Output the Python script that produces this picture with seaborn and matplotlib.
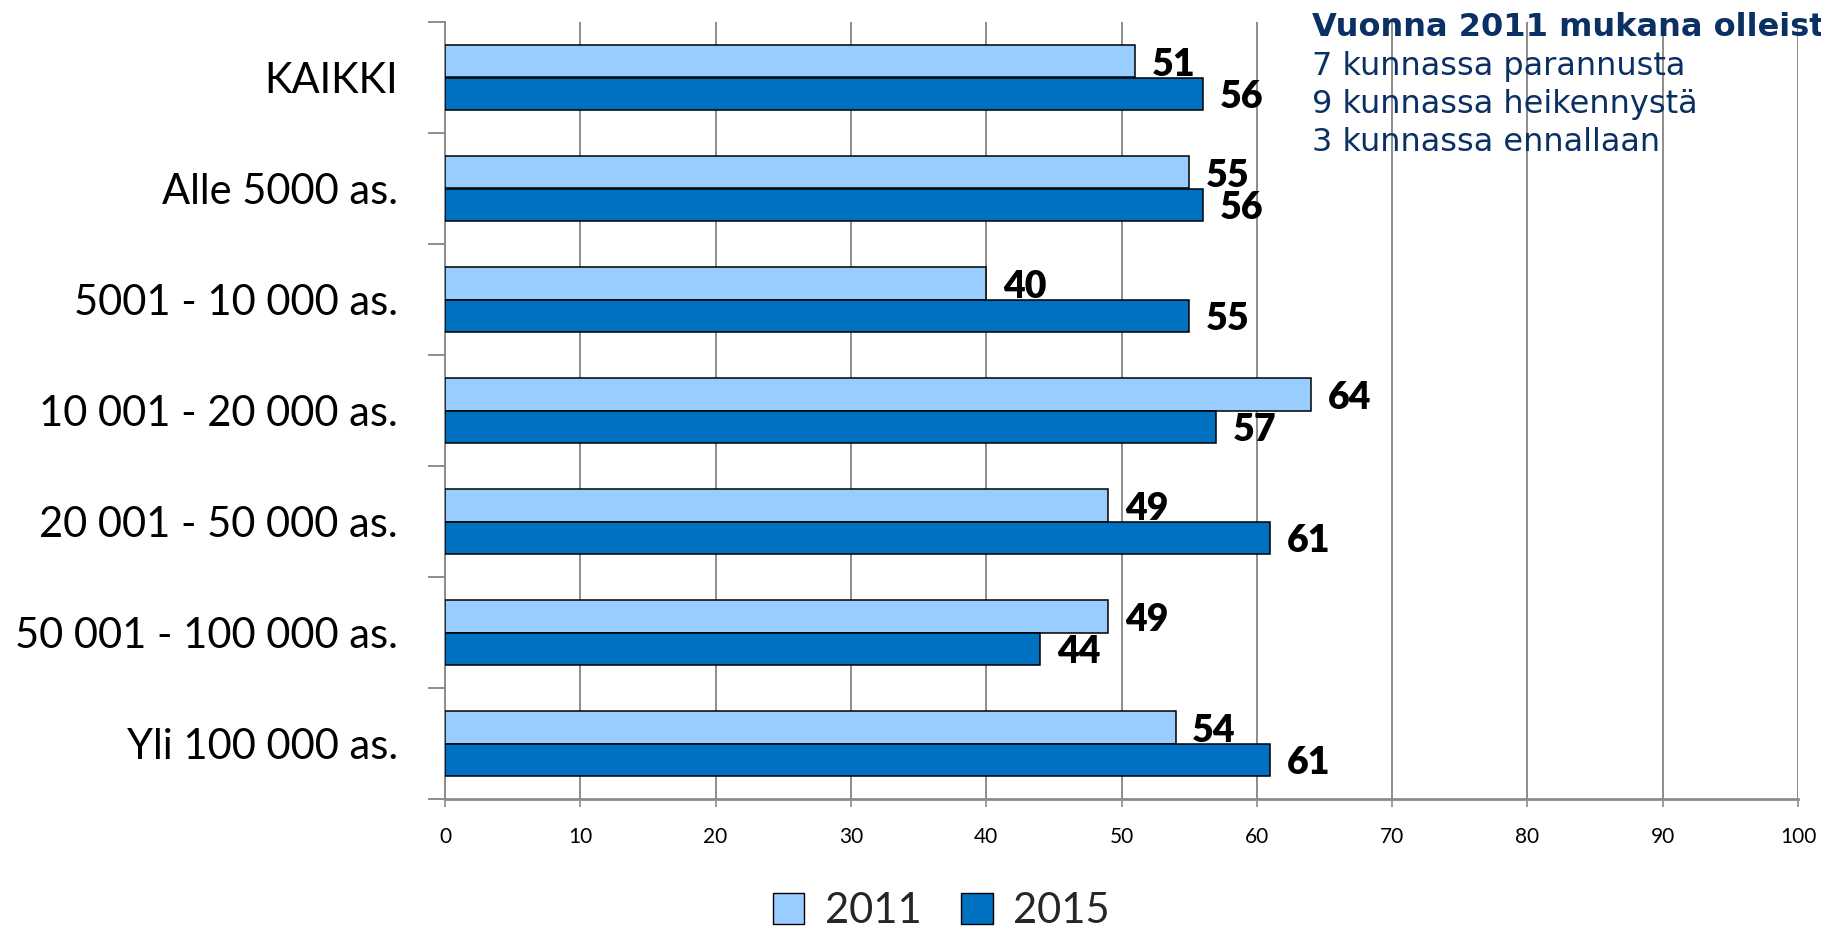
import matplotlib
matplotlib.use("Agg")
import matplotlib.pyplot as plt
import seaborn as sns
import pandas as pd
from matplotlib.patches import Patch

categories = ["KAIKKI", "Alle 5000 as.", "5001 - 10 000 as.", "10 001 - 20 000 as.",
              "20 001 - 50 000 as.", "50 001 - 100 000 as.", "Yli 100 000 as."]
values_2011 = [51, 55, 40, 64, 49, 49, 54]
values_2015 = [56, 56, 55, 57, 61, 44, 61]
years = ["2011", "2015"]
colors = ["#99CCFF", "#0070C0"]
x_ticks = [0, 10, 20, 30, 40, 50, 60, 70, 80, 90, 100]
note_title = "Vuonna 2011 mukana olleista"
note_lines = ["7 kunnassa parannusta", "9 kunnassa heikennystä", "3 kunnassa ennallaan"]

df = pd.DataFrame({
    "cat": categories * 2,
    "year": [years[0]] * len(categories) + [years[1]] * len(categories),
    "val": values_2011 + values_2015,
})

sns.set_theme(style="white")
plt.rcParams["font.family"] = ["Lato", "DejaVu Sans"]

fig = plt.figure(figsize=(18.21, 9.30), dpi=100)
ax = fig.add_axes([445 / 1821, 1 - 799 / 930, (1798 - 445) / 1821, (799 - 22) / 930])

sns.barplot(data=df, y="cat", x="val", hue="year", order=categories, hue_order=years,
            palette=colors, saturation=1, orient="h", width=0.58, edgecolor="black",
            linewidth=1.1, ax=ax, legend=False, zorder=3)

ax.set_xlim(0, 100)
ax.set_ylim(6.5, -0.5)
ax.set_xticks(x_ticks)
ax.set_xticklabels([str(t) for t in x_ticks], fontsize=15)
ax.set_xlabel("")
ax.set_ylabel("")
ax.xaxis.grid(True, color="#8c8c8c", linewidth=1.4, zorder=0)
ax.yaxis.grid(False)
ax.set_axisbelow(True)
for s in ["top", "right"]:
    ax.spines[s].set_visible(False)
ax.spines["left"].set_color("#8c8c8c")
ax.spines["left"].set_linewidth(1.4)
ax.spines["bottom"].set_color("#8c8c8c")
ax.spines["bottom"].set_linewidth(2.0)
ax.tick_params(axis="x", which="major", bottom=True, length=6, width=1.2, color="#8c8c8c",
               pad=14, labelcolor="black")
ax.tick_params(axis="y", which="major", left=False, length=0, pad=34, labelsize=30,
               labelcolor="black")
ax.set_yticks([i - 0.5 for i in range(len(categories) + 1)], minor=True)
ax.tick_params(axis="y", which="minor", left=True, length=12, width=1.4, color="#8c8c8c")

for cont in ax.containers:
    texts = ax.bar_label(cont, fmt="%d", padding=12, fontsize=27, fontweight="heavy",
                         color="black")
    for t in texts:
        t.xyann = (12, -2.5)

handles = [Patch(facecolor=c, edgecolor="black", linewidth=1.0) for c in colors]
fig.legend(handles, years, loc="center", bbox_to_anchor=(0.517, 0.0204), ncol=2,
           frameon=False, fontsize=30, handlelength=0.75, handleheight=0.75,
           handletextpad=0.5, columnspacing=0.95)

navy = "#0B3064"
fig.text(1312 / 1821, 1 - 36 / 930, note_title, fontsize=23, fontweight="bold", color=navy,
         family="DejaVu Sans", ha="left", va="baseline")
for i, line in enumerate(note_lines):
    fig.text(1312 / 1821, 1 - (75 + 38 * i) / 930, line, fontsize=23, color=navy,
             family="DejaVu Sans", ha="left", va="baseline")

fig.savefig("out.png", dpi=100)
